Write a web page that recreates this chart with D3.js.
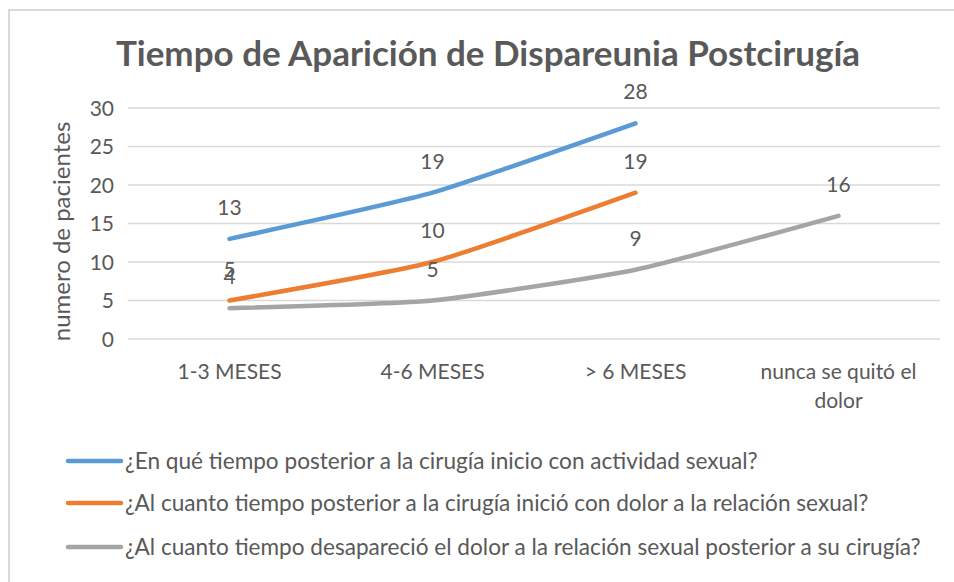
<!DOCTYPE html>
<html><head><meta charset="utf-8">
<script src="https://cdn.jsdelivr.net/npm/d3@7"></script>
<style>
html,body{margin:0;padding:0;background:#fff;}
svg{display:block;}
text{font-family:Lato,"Open Sans",sans-serif;fill:#595959;}
</style></head>
<body>
<svg id="chart" width="954" height="582"></svg>
<script>
const title = "Tiempo de Aparición de Dispareunia Postcirugía";
const yAxisTitle = "numero de pacientes";
const categories = ["1-3 MESES", "4-6 MESES", "> 6 MESES", "nunca se quitó el dolor"];
const yTicks = [0, 5, 10, 15, 20, 25, 30];
const seriesNames = [
  "¿En qué tiempo posterior a la cirugía inicio con actividad sexual?",
  "¿Al cuanto tiempo posterior a la cirugía inició con dolor a la relación sexual?",
  "¿Al cuanto tiempo desapareció el dolor a la relación sexual posterior a su cirugía?"
];
const seriesActividad = [13, 19, 28, null];
const seriesDolorInicio = [5, 10, 19, null];
const seriesDolorFin = [4, 5, 9, 16];
const seriesColors = ["#5B9BD5", "#ED7D31", "#A5A5A5"];

const svg = d3.select("#chart");
const W = 954, H = 582;
const plot = {left: 128, right: 940, top: 108, bottom: 339};

// outer border
svg.append("rect").attr("x", 9).attr("y", 10).attr("width", W).attr("height", H)
  .attr("fill", "none").attr("stroke", "#D9D9D9").attr("stroke-width", 2);

const x = d3.scaleBand().domain(categories).range([plot.left, plot.right]).padding(0);
const y = d3.scaleLinear().domain([0, 30]).range([plot.bottom, plot.top]);

// gridlines
svg.append("g").selectAll("line").data(yTicks).join("line")
  .attr("x1", plot.left).attr("x2", plot.right)
  .attr("y1", d => y(d)).attr("y2", d => y(d))
  .attr("stroke", "#D9D9D9").attr("stroke-width", 1.3);

// y axis
const yAxis = d3.axisLeft(y).tickValues(yTicks).tickSize(0).tickPadding(14);
const gy = svg.append("g").attr("transform", `translate(${plot.left},0)`).call(yAxis);
gy.select(".domain").remove();
gy.attr("font-family", null);
gy.selectAll("text").style("font-size", "21px").attr("fill", "#595959").attr("dy", "0.35em");

// x axis
const xAxis = d3.axisBottom(x).tickSize(0).tickPadding(0);
const gx = svg.append("g").attr("transform", `translate(0,${plot.bottom})`).call(xAxis);
gx.select(".domain").remove();
gx.attr("font-family", null);
gx.selectAll("text").style("font-size", "21px").attr("fill", "#595959")
  .each(function(d) {
    const t = d3.select(this);
    t.text(null).attr("y", 0).attr("dy", null);
    let lines = [d];
    if (d === "nunca se quitó el dolor") lines = ["nunca se quitó el", "dolor"];
    lines.forEach((ln, i) => t.append("tspan").attr("x", 0).attr("y", 40 + i * 29).text(ln));
  });

// title
svg.append("text").attr("x", 488).attr("y", 66).attr("text-anchor", "middle")
  .style("font-size", "35px").style("font-weight", "bold").text(title);

// y axis title
svg.append("text").attr("transform", `translate(70,${(plot.top + plot.bottom) / 2 + 8}) rotate(-90)`)
  .attr("text-anchor", "middle").style("font-size", "24px").text(yAxisTitle);

// lines
const allSeries = [seriesActividad, seriesDolorInicio, seriesDolorFin];
const line = d3.line()
  .defined(d => d.v !== null)
  .x(d => x(d.c) + x.bandwidth() / 2)
  .y(d => y(d.v))
  .curve(d3.curveCardinal.tension(0.5));

allSeries.forEach((vals, i) => {
  const pts = categories.map((c, j) => ({c, v: vals[j]}));
  svg.append("path").datum(pts).attr("d", line)
    .attr("fill", "none").attr("stroke", seriesColors[i]).attr("stroke-width", 4.5)
    .attr("stroke-linecap", "round").attr("stroke-linejoin", "round");
});

// data labels
allSeries.forEach((vals, i) => {
  const pts = categories.map((c, j) => ({c, v: vals[j]})).filter(d => d.v !== null);
  svg.append("g").selectAll("text").data(pts).join("text")
    .attr("x", d => x(d.c) + x.bandwidth() / 2)
    .attr("y", d => y(d.v) - 24)
    .attr("text-anchor", "middle").style("font-size", "21px").text(d => d.v);
});

// legend
const legendY = [461, 503, 547];
seriesNames.forEach((name, i) => {
  const g = svg.append("g");
  g.append("line").attr("x1", 68).attr("x2", 121).attr("y1", legendY[i]).attr("y2", legendY[i])
    .attr("stroke", seriesColors[i]).attr("stroke-width", 4.5).attr("stroke-linecap", "round");
  g.append("text").attr("x", 125).attr("y", legendY[i]).attr("dy", "0.35em")
    .style("font-size", "22.6px").text(name);
});
</script>
</body></html>
